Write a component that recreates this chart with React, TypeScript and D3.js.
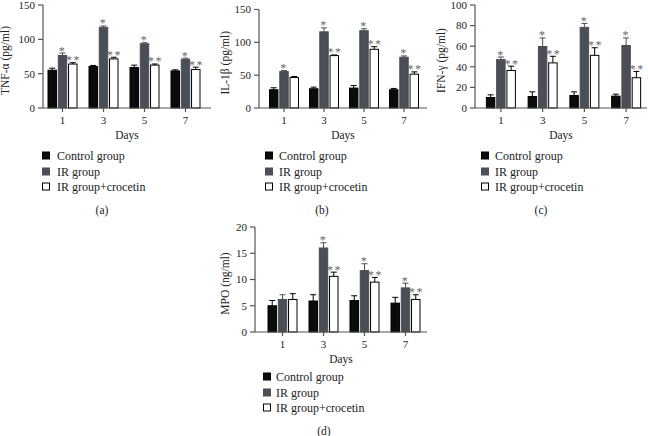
import React from 'react';
import * as d3 from 'd3';

const days = ['1', '3', '5', '7'];
const seriesNames = ['Control group', 'IR group', 'IR group+crocetin'];
const seriesFill = ['#0b0b0b', '#4a4e56', '#ffffff'];

const tnfControl = [55, 60.5, 59, 54];
const tnfIR = [76.5, 117.5, 93.5, 71];
const tnfCroc = [64, 71.5, 62.5, 56];
const tnfControlErr = [3, 1.5, 3.4, 1.6];
const tnfIRErr = [3.5, 2, 1.6, 1.6];
const tnfCrocErr = [2, 2.4, 1.6, 3.5];

const ilControl = [27.8, 29.3, 30.3, 27.8];
const ilIR = [55.5, 116, 117.7, 77.3];
const ilCroc = [46.5, 79.8, 89.4, 51.5];
const ilControlErr = [3, 2.5, 4, 2];
const ilIRErr = [1.5, 6, 3, 2];
const ilCrocErr = [1.5, 1, 4, 3.5];

const ifnControl = [10.2, 11.2, 12.1, 11.5];
const ifnIR = [47, 59.7, 78.3, 60.7];
const ifnCroc = [36.4, 43.8, 51.1, 29.4];
const ifnControlErr = [2.6, 4.5, 3.6, 1.9];
const ifnIRErr = [2.5, 8.3, 3.8, 7.3];
const ifnCrocErr = [4.2, 6.4, 7.4, 6.1];

const mpoControl = [5.0, 5.9, 6.0, 5.5];
const mpoIR = [6.2, 16.0, 11.7, 8.4];
const mpoCroc = [6.2, 10.6, 9.5, 6.2];
const mpoControlErr = [1.0, 1.2, 0.9, 1.1];
const mpoIRErr = [0.9, 1.0, 1.3, 0.9];
const mpoCrocErr = [1.1, 0.8, 0.9, 0.9];

const tnfStars = [['', '', '', ''], ['*', '*', '*', '*'], ['**', '**', '**', '**']];
const ilStars = [['', '', '', ''], ['*', '*', '*', '*'], ['', '**', '**', '**']];
const ifnStars = [['', '', '', ''], ['*', '*', '*', '*'], ['**', '**', '**', '**']];
const mpoStars = [['', '', '', ''], ['', '*', '*', '*'], ['', '**', '**', '**']];

const tnfTicks = [0, 50, 100, 150];
const ilTicks = [0, 50, 100, 150];
const ifnTicks = [0, 20, 40, 60, 80, 100];
const mpoTicks = [0, 5, 10, 15, 20];

const FONT = "'Liberation Serif', 'Times New Roman', serif";
const AXIS = '#555';
const STAR = '#666';

type PanelProps = {
  means: number[][];
  errs: number[][];
  stars: string[][];
  ticks: number[];
  ymax: number;
  title: string;
  axisX: number;
  xEnd: number;
  bandRange: [number, number];
  yTop: number;
  yBottom: number;
  titleX: number;
  legendSqX: number;
  legendTextX: number;
  legendY: number[];
  panelLabel: string;
  panelLabelX: number;
  panelLabelY: number;
};

function Panel(p: PanelProps) {
  const x = d3.scaleBand<string>().domain(days).range(p.bandRange).padding(0);
  const inner = d3
    .scaleBand<number>()
    .domain([0, 1, 2])
    .range([-15, 15])
    .paddingInner(0.08);
  const y = d3.scaleLinear().domain([0, p.ymax]).range([p.yBottom, p.yTop]);
  const bw = inner.bandwidth();
  const midX = (p.axisX + p.xEnd) / 2;
  return (
    <g>
      {p.means.map((s, si) =>
        s.map((v, di) => {
          const cx = (x(days[di]) as number) + x.bandwidth() / 2;
          const bx = cx + (inner(si) as number);
          const top = y(v);
          const et = y(v + p.errs[si][di]);
          const ecx = bx + bw / 2;
          const stroke = si === 1 ? '#4a4e56' : '#000';
          return (
            <g key={`${si}-${di}`}>
              <line x1={ecx} x2={ecx} y1={top} y2={et} stroke={stroke} strokeWidth={1} />
              <line x1={ecx - 3} x2={ecx + 3} y1={et} y2={et} stroke={stroke} strokeWidth={1} />
              <rect
                x={bx + 0.5}
                y={top}
                width={bw - 1}
                height={p.yBottom - top}
                fill={seriesFill[si]}
                stroke={si === 1 ? '#4a4e56' : '#000'}
                strokeWidth={1}
              />
              {p.stars[si][di] && (
                <text
                  x={ecx + (p.stars[si][di].length > 1 ? 0.75 : 0)}
                  y={et + 1.5}
                  textAnchor="middle"
                  fontSize={12}
                  fill={STAR}
                  letterSpacing={1.5}
                >
                  {p.stars[si][di]}
                </text>
              )}
            </g>
          );
        })
      )}
      <line x1={p.axisX} x2={p.axisX} y1={p.yTop} y2={p.yBottom} stroke={AXIS} strokeWidth={1.2} />
      <line x1={p.axisX} x2={p.xEnd} y1={p.yBottom} y2={p.yBottom} stroke={AXIS} strokeWidth={1.2} />
      {p.ticks.map((t) => (
        <g key={t}>
          <line x1={p.axisX - 5} x2={p.axisX} y1={y(t)} y2={y(t)} stroke={AXIS} strokeWidth={1.2} />
          <text x={p.axisX - 8} y={y(t)} dy="0.35em" textAnchor="end" fontSize={11} fill="#222">
            {t}
          </text>
        </g>
      ))}
      {days.map((d) => {
        const cx = (x(d) as number) + x.bandwidth() / 2;
        return (
          <g key={d}>
            <line x1={cx} x2={cx} y1={p.yBottom} y2={p.yBottom + 4} stroke={AXIS} strokeWidth={1.2} />
            <text x={cx} y={p.yBottom + 16} textAnchor="middle" fontSize={11} fill="#222">
              {d}
            </text>
          </g>
        );
      })}
      <text x={midX} y={p.yBottom + 31} textAnchor="middle" fontSize={11.5} fill="#222">
        Days
      </text>
      <text
        transform={`translate(${p.titleX},${(p.yTop + p.yBottom) / 2 + 4}) rotate(-90)`}
        textAnchor="middle"
        fontSize={11.5}
        fill="#222"
      >
        {p.title}
      </text>
      {seriesNames.map((n, i) => (
        <g key={n}>
          <rect
            x={p.legendSqX + 0.5}
            y={p.legendY[i] - 4}
            width={7}
            height={7}
            fill={seriesFill[i]}
            stroke={i === 1 ? '#4a4e56' : '#000'}
            strokeWidth={1}
          />
          <text x={p.legendTextX} y={p.legendY[i]} dy="0.35em" fontSize={12} fill="#222">
            {n}
          </text>
        </g>
      ))}
      <text x={p.panelLabelX} y={p.panelLabelY} dy="0.35em" textAnchor="middle" fontSize={11.5} fill="#222">
        {p.panelLabel}
      </text>
    </g>
  );
}

export default function App() {
  return (
    <svg
      width={648}
      height={436}
      style={{ position: 'absolute', left: 0, top: 0, background: '#fff', fontFamily: FONT }}
    >
      <rect width={648} height={436} fill="#fff" />
      <Panel
        means={[tnfControl, tnfIR, tnfCroc]}
        errs={[tnfControlErr, tnfIRErr, tnfCrocErr]}
        stars={tnfStars}
        ticks={tnfTicks}
        ymax={150}
        title="TNF-α (pg/ml)"
        axisX={43}
        xEnd={211}
        bandRange={[42, 206]}
        yTop={5}
        yBottom={108}
        titleX={9}
        legendSqX={42}
        legendTextX={57}
        legendY={[156, 172, 187]}
        panelLabel="(a)"
        panelLabelX={102}
        panelLabelY={210}
      />
      <Panel
        means={[ilControl, ilIR, ilCroc]}
        errs={[ilControlErr, ilIRErr, ilCrocErr]}
        stars={ilStars}
        ticks={ilTicks}
        ymax={150}
        title="IL-1β (pg/ml)"
        axisX={259}
        xEnd={427}
        bandRange={[264, 424]}
        yTop={9.5}
        yBottom={108}
        titleX={229}
        legendSqX={265}
        legendTextX={279}
        legendY={[156, 172, 187]}
        panelLabel="(b)"
        panelLabelX={322}
        panelLabelY={210}
      />
      <Panel
        means={[ifnControl, ifnIR, ifnCroc]}
        errs={[ifnControlErr, ifnIRErr, ifnCrocErr]}
        stars={ifnStars}
        ticks={ifnTicks}
        ymax={100}
        title="IFN-γ (pg/ml)"
        axisX={475}
        xEnd={647}
        bandRange={[480, 647]}
        yTop={5}
        yBottom={108}
        titleX={445}
        legendSqX={481}
        legendTextX={495}
        legendY={[156, 172, 187]}
        panelLabel="(c)"
        panelLabelX={541}
        panelLabelY={210}
      />
      <Panel
        means={[mpoControl, mpoIR, mpoCroc]}
        errs={[mpoControlErr, mpoIRErr, mpoCrocErr]}
        stars={mpoStars}
        ticks={mpoTicks}
        ymax={20}
        title="MPO (ng/ml)"
        axisX={255}
        xEnd={427}
        bandRange={[262, 426]}
        yTop={227}
        yBottom={332}
        titleX={229}
        legendSqX={263}
        legendTextX={276}
        legendY={[377, 393, 408]}
        panelLabel="(d)"
        panelLabelX={324}
        panelLabelY={431}
      />
    </svg>
  );
}
